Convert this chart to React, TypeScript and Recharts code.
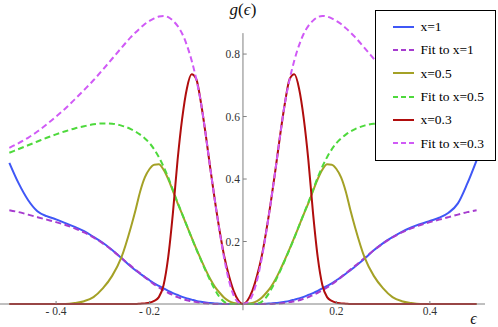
import React from 'react';
import { LineChart, Line, XAxis, YAxis, ReferenceLine, Legend } from 'recharts';

const eps = [
  -0.5, -0.48, -0.46, -0.44, -0.42, -0.4, -0.38, -0.36, -0.34, -0.32, -0.3, -0.28, -0.26,
  -0.24, -0.23, -0.22, -0.21, -0.2, -0.19, -0.18, -0.17, -0.16, -0.15, -0.14, -0.13, -0.12, -0.11, -0.1,
  -0.09, -0.08, -0.07, -0.06, -0.05, -0.04, -0.03, -0.02, -0.01,
  0,
  0.01, 0.02, 0.03, 0.04, 0.05, 0.06, 0.07, 0.08, 0.09, 0.1, 0.11, 0.12, 0.13, 0.14, 0.15, 0.16, 0.17,
  0.18, 0.19, 0.2, 0.21, 0.22, 0.23, 0.24,
  0.26, 0.28, 0.3, 0.32, 0.34, 0.36, 0.38, 0.4, 0.42, 0.44, 0.46, 0.48, 0.5,
];

const gX1 = [
  0.452, 0.386, 0.333, 0.297, 0.281, 0.271, 0.259, 0.247, 0.233, 0.215, 0.196, 0.173, 0.147,
  0.12, 0.108, 0.097, 0.086, 0.076, 0.066, 0.058, 0.05, 0.042, 0.035, 0.029, 0.023, 0.018, 0.014, 0.01,
  0.007, 0.005, 0.003, 0.002, 0.001, 0, 0, 0, 0,
  0,
  0, 0, 0, 0, 0.001, 0.002, 0.003, 0.005, 0.007, 0.01, 0.014, 0.018, 0.023, 0.029, 0.035, 0.042, 0.05,
  0.058, 0.066, 0.076, 0.086, 0.097, 0.108, 0.12,
  0.145, 0.172, 0.195, 0.214, 0.231, 0.245, 0.256, 0.266, 0.276, 0.292, 0.322, 0.385, 0.46,
];

const gFitX1 = [
  0.3, 0.294, 0.286, 0.278, 0.27, 0.262, 0.253, 0.242, 0.229, 0.213, 0.194, 0.172, 0.147,
  0.122, 0.11, 0.098, 0.086, 0.074, 0.063, 0.053, 0.044, 0.036, 0.029, 0.022, 0.017, 0.012, 0.009, 0.006,
  0.004, 0.002, 0.001, 0, 0, 0, 0, 0, 0,
  0,
  0, 0, 0, 0, 0, 0, 0.001, 0.002, 0.004, 0.006, 0.009, 0.012, 0.017, 0.022, 0.029, 0.036, 0.044,
  0.053, 0.063, 0.074, 0.086, 0.098, 0.11, 0.122,
  0.147, 0.172, 0.194, 0.213, 0.229, 0.242, 0.253, 0.262, 0.27, 0.278, 0.286, 0.294, 0.3,
];

const gX05 = [
  0, 0, 0, 0, 0, 0, 0, 0.003, 0.009, 0.022, 0.05, 0.09, 0.15,
  0.245, 0.3, 0.36, 0.405, 0.432, 0.446, 0.447, 0.43, 0.4, 0.362, 0.323, 0.287, 0.25, 0.213, 0.177,
  0.143, 0.11, 0.08, 0.055, 0.036, 0.02, 0.009, 0.003, 0.001,
  0,
  0.001, 0.003, 0.009, 0.02, 0.036, 0.055, 0.08, 0.11, 0.143, 0.177, 0.213, 0.25, 0.287, 0.323, 0.362, 0.4, 0.43,
  0.447, 0.446, 0.432, 0.405, 0.36, 0.3, 0.245,
  0.15, 0.09, 0.05, 0.022, 0.009, 0.003, 0, 0, 0, 0, 0, 0, 0,
];

const gFitX05 = [
  0.484, 0.496, 0.508, 0.52, 0.532, 0.543, 0.553, 0.562, 0.569, 0.575, 0.578, 0.577, 0.571,
  0.56, 0.552, 0.542, 0.53, 0.515, 0.495, 0.47, 0.44, 0.405, 0.365, 0.325, 0.288, 0.25, 0.212, 0.176,
  0.141, 0.107, 0.075, 0.046, 0.022, 0.007, 0.001, 0, 0,
  0,
  0, 0, 0.001, 0.007, 0.022, 0.046, 0.075, 0.107, 0.141, 0.176, 0.212, 0.25, 0.288, 0.325, 0.365, 0.405, 0.44,
  0.47, 0.495, 0.515, 0.53, 0.542, 0.552, 0.56,
  0.571, 0.577, 0.578, 0.575, 0.569, 0.562, 0.553, 0.543, 0.532, 0.52, 0.508, 0.496, 0.484,
];

const gX03 = [
  0, 0, 0, 0, 0, 0, 0, 0, 0, 0, 0, 0, 0,
  0, 0, 0.001, 0.002, 0.004, 0.01, 0.022, 0.06, 0.15, 0.29, 0.46, 0.595, 0.69, 0.735, 0.72,
  0.645, 0.545, 0.435, 0.33, 0.235, 0.152, 0.09, 0.042, 0.012,
  0,
  0.012, 0.042, 0.09, 0.152, 0.235, 0.33, 0.435, 0.545, 0.645, 0.72, 0.735, 0.69, 0.595, 0.46, 0.29, 0.15, 0.06,
  0.022, 0.01, 0.004, 0.002, 0.001, 0, 0,
  0, 0, 0, 0, 0, 0, 0, 0, 0, 0, 0, 0, 0,
];

const gFitX03 = [
  0.5, 0.515, 0.532, 0.552, 0.575, 0.6, 0.626, 0.655, 0.685, 0.716, 0.75, 0.785, 0.82,
  0.854, 0.869, 0.883, 0.896, 0.906, 0.914, 0.92, 0.922, 0.918, 0.907, 0.89, 0.865, 0.828, 0.78, 0.72,
  0.645, 0.545, 0.435, 0.33, 0.232, 0.145, 0.075, 0.028, 0.005,
  0,
  0.005, 0.028, 0.075, 0.145, 0.232, 0.33, 0.435, 0.545, 0.645, 0.72, 0.78, 0.828, 0.865, 0.89, 0.907, 0.918, 0.922,
  0.92, 0.914, 0.906, 0.896, 0.883, 0.869, 0.854,
  0.82, 0.785, 0.75, 0.716, 0.685, 0.655, 0.626, 0.6, 0.575, 0.552, 0.532, 0.515, 0.5,
];

const xTicks = [-0.4, -0.2, 0.2, 0.4];
const yTicks = [0.2, 0.4, 0.6, 0.8];
const yAxisTop = 0.867;

const seriesKeys = ['x1', 'fit1', 'x05', 'fit05', 'x03', 'fit03'];
const seriesNames = ['x=1', 'Fit to x=1', 'x=0.5', 'Fit to x=0.5', 'x=0.3', 'Fit to x=0.3'];
const seriesColors = ['#3f57f6', '#a63ccf', '#a4a126', '#4ed93c', '#b00d0d', '#d05af6'];
const seriesDashed = [false, true, false, true, false, true];
const seriesValues = [gX1, gFitX1, gX05, gFitX05, gX03, gFitX03];

const data = eps.map((e, i) => {
  const row: Record<string, number> = { e };
  seriesKeys.forEach((k, j) => {
    row[k] = seriesValues[j][i];
  });
  return row;
});

const SERIF = "'Liberation Serif', 'Times New Roman', 'DejaVu Serif', serif";
const AXIS = '#808080';
const TEXT = '#333';

const fmtX = (v: number) => (v < 0 ? '- ' + Math.abs(v).toFixed(1) : v.toFixed(1));

const renderGLabel = (props: any) => {
  const vb = props.viewBox || {};
  return (
    <text x={vb.x} y={vb.y - 18} textAnchor="middle" fontFamily={SERIF} fontSize={17} fill="#111">
      <tspan fontStyle="italic">g</tspan>
      <tspan>(</tspan>
      <tspan fontStyle="italic">ϵ</tspan>
      <tspan>)</tspan>
    </text>
  );
};

const renderEpsLabel = (props: any) => {
  const vb = props.viewBox || {};
  return (
    <text x={vb.x + vb.width - 11.5} y={vb.y + 19.5} textAnchor="middle" fontFamily={SERIF} fontSize={16} fontStyle="italic" fill="#111">
      ϵ
    </text>
  );
};

const renderLegend = () => (
  <div
    style={{
      boxSizing: 'border-box',
      width: 121,
      height: 151,
      border: '1px solid #000',
      background: '#fff',
      paddingTop: 4,
    }}
  >
    {seriesNames.map((name, idx) => (
      <div key={name} style={{ display: 'flex', alignItems: 'center', height: 23.33 }}>
        <svg width={21} height={4} style={{ marginLeft: 17, display: 'block' }}>
          <line
            x1={0}
            y1={2}
            x2={21}
            y2={2}
            stroke={seriesColors[idx]}
            strokeWidth={2}
            strokeDasharray={seriesDashed[idx] ? '5 3' : undefined}
          />
        </svg>
        <span style={{ marginLeft: 6.5, fontFamily: SERIF, fontSize: 13.5, color: '#000', lineHeight: '1', whiteSpace: 'nowrap' }}>
          {name}
        </span>
      </div>
    ))}
  </div>
);

export default function App() {
  return (
    <>
      <style>{'body{margin:0;}'}</style>
      <LineChart
        width={498}
        height={327}
        data={data}
        margin={{ top: 0, right: 13, bottom: 0, left: 0 }}
        style={{ fontFamily: SERIF }}
      >
        <XAxis
          type="number"
          dataKey="e"
          domain={[-0.52, 0.518]}
          ticks={xTicks}
          interval={0}
          tickFormatter={fmtX}
          tickSize={-3}
          tickMargin={6}
          height={23}
          axisLine={{ stroke: AXIS }}
          tickLine={{ stroke: AXIS }}
          tick={{ fill: TEXT, fontSize: 11.5, fontFamily: SERIF }}
          label={renderEpsLabel}
        />
        <YAxis hide type="number" domain={[0, 0.973]} />
        <ReferenceLine
          segment={[{ x: 0, y: -0.02 }, { x: 0, y: yAxisTop }]}
          stroke={AXIS}
          strokeWidth={1}
          ifOverflow="visible"
          label={renderGLabel}
        />
        {yTicks.map((t) => (
          <ReferenceLine
            key={t}
            segment={[{ x: 0, y: t }, { x: 0.008, y: t }]}
            stroke={AXIS}
            ifOverflow="visible"
            label={{ value: t.toFixed(1), position: 'left', offset: 3, fill: TEXT, fontSize: 11.5, fontFamily: SERIF }}
          />
        ))}
        {seriesKeys.map((k, i) => (
          <Line
            key={k}
            dataKey={k}
            name={seriesNames[i]}
            type="monotone"
            stroke={seriesColors[i]}
            strokeWidth={2}
            strokeDasharray={seriesDashed[i] ? '6 3.5' : undefined}
            dot={false}
            activeDot={false}
            isAnimationActive={false}
          />
        ))}
        <Legend
          layout="vertical"
          align="center"
          verticalAlign="middle"
          wrapperStyle={{ left: 375, top: 10, width: 121, height: 151 }}
          content={renderLegend}
        />
      </LineChart>
    </>
  );
}
